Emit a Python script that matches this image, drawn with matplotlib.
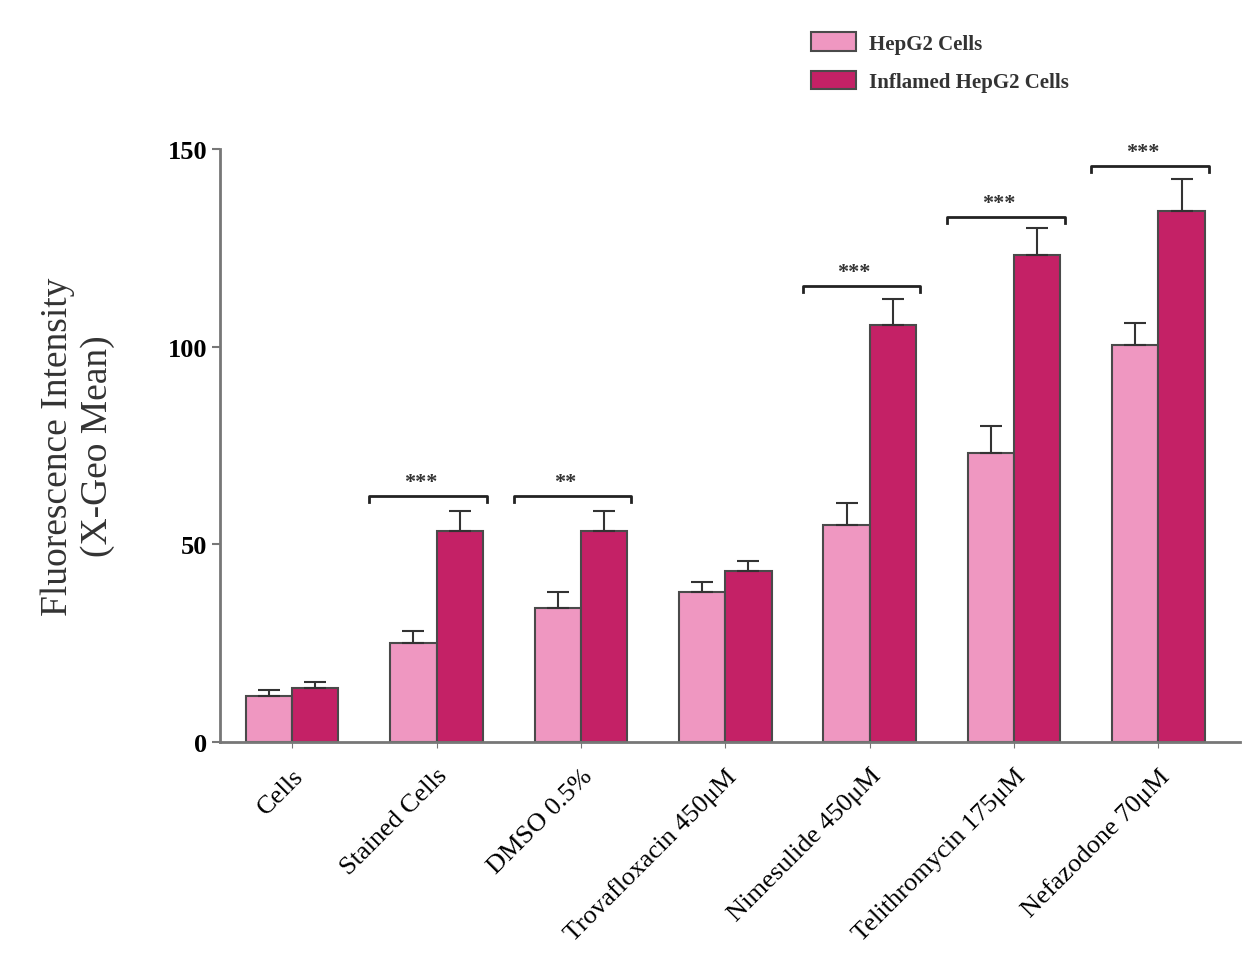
import numpy as np
import matplotlib.pyplot as plt

categories = ["Cells", "Stained Cells", "DMSO 0.5%", "Trovafloxacin 450\u03bcM",
              "Nimesulide 450\u03bcM", "Telithromycin 175\u03bcM", "Nefazodone 70\u03bcM"]
hepg2 = [11.6, 25.0, 33.9, 37.9, 54.9, 73.1, 100.4]
hepg2_err = [1.6, 3.1, 4.0, 2.6, 5.6, 6.9, 5.6]
inflamed = [13.7, 53.4, 53.4, 43.3, 105.5, 123.2, 134.3]
inflamed_err = [1.5, 5.0, 5.0, 2.5, 6.5, 6.8, 8.1]

# significance brackets: (group index, bracket height, label)
sig = [(1, 62.2, "***"), (2, 62.2, "**"), (4, 115.4, "***"),
       (5, 132.8, "***"), (6, 145.7, "***")]

pink = "#EF97C1"
red = "#C42166"
edge = "#4a4a4a"

plt.rcParams['font.family'] = ['Liberation Serif', 'DejaVu Serif']

fig = plt.figure(figsize=(12.43, 9.78), dpi=100)
ax = fig.add_axes([0.177, 0.2403, 0.8206, 0.6063])

x = np.arange(len(categories))
w = 0.32
ekw = dict(ecolor="#333333", elinewidth=1.5, capsize=8, capthick=1.5)
ax.bar(x - w / 2, hepg2, w, color=pink, edgecolor=edge, linewidth=1.5,
       yerr=[np.zeros(len(x)), hepg2_err], error_kw=ekw, label="HepG2 Cells")
ax.bar(x + w / 2, inflamed, w, color=red, edgecolor=edge, linewidth=1.5,
       yerr=[np.zeros(len(x)), inflamed_err], error_kw=ekw, label="Inflamed HepG2 Cells")

for i, h, s in sig:
    x0, x1 = i - 0.465, i + 0.35
    ax.plot([x0, x0, x1, x1], [h - 1.6, h, h, h - 1.6], color="#222222", lw=2,
            clip_on=False)
    ax.text((x0 + x1) / 2 - 0.05, h + 1.0, s, ha="center", va="bottom",
            fontsize=16, fontweight="bold", color="#333333", clip_on=False)

ax.set_xlim(-0.5, 6.565)
ax.set_ylim(0, 150)
ax.set_yticks([0, 50, 100, 150])
ax.set_yticklabels(["0", "50", "100", "150"], fontsize=19, fontweight="bold")
ax.set_xticks(x)
ax.set_xticklabels(categories, rotation=45, ha="right", rotation_mode="anchor",
                   fontsize=19)
ax.tick_params(axis="x", length=4, color="#777777", pad=12)
ax.tick_params(axis="y", length=6, color="#777777", width=1.5, pad=3)
for side in ["top", "right"]:
    ax.spines[side].set_visible(False)
for side in ["left", "bottom"]:
    ax.spines[side].set_color("#777777")
    ax.spines[side].set_linewidth(2)

ax.set_ylabel("Fluorescence Intensity\n(X-Geo Mean)", fontsize=27, labelpad=38,
              color="#333333")

leg = fig.legend(loc="upper left", bbox_to_anchor=(0.637, 0.985), frameon=False,
                 fontsize=15, handlelength=2.2, handleheight=1.0,
                 labelspacing=0.8, handletextpad=0.6)
for t in leg.get_texts():
    t.set_color("#333333")
    t.set_fontweight("bold")

fig.savefig("out.png", dpi=100)
